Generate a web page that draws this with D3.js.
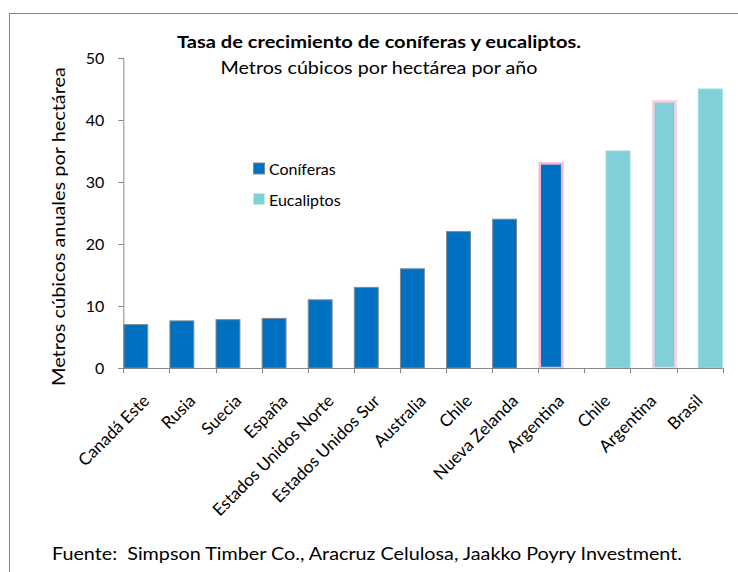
<!DOCTYPE html>
<html>
<head>
<meta charset="utf-8">
<script src="https://cdn.jsdelivr.net/npm/d3@7"></script>
<style>
  html, body { margin: 0; padding: 0; background: #fff; }
  svg { display: block; font-family: Lato, "Open Sans", sans-serif; }
</style>
</head>
<body>
<svg id="chart" width="738" height="572"></svg>
<script>
// ---- data ----
const categories = ["Canadá Este", "Rusia", "Suecia", "España", "Estados Unidos Norte", "Estados Unidos Sur", "Australia", "Chile", "Nueva Zelanda", "Argentina", "Chile", "Argentina", "Brasil"];
const coniferas  = [7, 7.6, 7.8, 8, 11, 13, 16, 22, 24, 33, null, null, null];
const eucaliptos = [null, null, null, null, null, null, null, null, null, null, 35, 43, 45];
const highlighted = [false, false, false, false, false, false, false, false, false, true, false, true, false];
const yTicks = [0, 10, 20, 30, 40, 50];
const seriesNames = ["Coníferas", "Eucaliptos"];
const titleText = "Tasa de crecimiento de coníferas y eucaliptos.";
const subtitleText = "Metros cúbicos por hectárea por año";
const yAxisTitle = "Metros cúbicos anuales por hectárea";
const sourceText = "Fuente:  Simpson Timber Co., Aracruz Celulosa, Jaakko Poyry Investment.";

// ---- layout ----
const svg = d3.select("#chart");
const colorCon = "#0070C0", colorEuc = "#81CFD9", axisColor = "#868686";
const plot = { left: 123.3, right: 722.7, top: 58, bottom: 368 };

// outer frame
svg.append("rect").attr("x", 9.5).attr("y", 13.5).attr("width", 760).attr("height", 600)
  .attr("fill", "none").attr("stroke", axisColor).attr("stroke-width", 1);

const idx = categories.map((d, i) => i);
const x = d3.scaleBand().domain(idx).range([plot.left, plot.right]).padding(0);
const y = d3.scaleLinear().domain([0, 50]).range([plot.bottom, plot.top]);
const bw = x.bandwidth();
const barW = bw * 0.54;

// bars - coniferas (left in slot)
svg.append("g").selectAll("rect")
  .data(idx.filter(i => coniferas[i] != null))
  .join("rect")
  .attr("x", i => x(i) + (highlighted[i] ? 1.5 : 0.5))
  .attr("y", i => y(coniferas[i]))
  .attr("width", i => barW - (highlighted[i] ? 2.5 : 1))
  .attr("height", i => y(0) - y(coniferas[i]))
  .attr("fill", colorCon)
  .attr("stroke", i => highlighted[i] ? "#F7B6CF" : "#7F8A95")
  .attr("stroke-width", i => highlighted[i] ? 2.5 : 1);

// bars - eucaliptos (right in slot)
svg.append("g").selectAll("rect")
  .data(idx.filter(i => eucaliptos[i] != null))
  .join("rect")
  .attr("x", i => x(i) + bw - barW + (highlighted[i] ? 1.5 : 0.5))
  .attr("y", i => y(eucaliptos[i]))
  .attr("width", i => barW - (highlighted[i] ? 2.5 : 1))
  .attr("height", i => y(0) - y(eucaliptos[i]))
  .attr("fill", colorEuc)
  .attr("stroke", i => highlighted[i] ? "#FAD0DF" : "#9BD9E0")
  .attr("stroke-width", i => highlighted[i] ? 2.5 : 1);

// y axis
const yAxis = d3.axisLeft(y).tickValues(yTicks).tickSize(5).tickPadding(14).tickFormat(d3.format("d"));
const gy = svg.append("g").attr("transform", `translate(${plot.left},0)`).call(yAxis);
gy.select(".domain").attr("stroke", axisColor);
gy.selectAll(".tick line").attr("stroke", axisColor);
gy.selectAll(".tick text").attr("font-size", 16).attr("font-family", "Lato").attr("fill", "#000");

// x axis: line + boundary ticks
const gx = svg.append("g");
gx.append("line").attr("x1", plot.left).attr("x2", plot.right).attr("y1", y(0) + 0.5).attr("y2", y(0) + 0.5)
  .attr("stroke", axisColor);
const bounds = idx.map(i => x(i)).concat([x(idx[idx.length - 1]) + bw]);
gx.selectAll("line.tk").data(bounds).join("line").attr("class", "tk")
  .attr("x1", d => Math.round(d) + 0.5).attr("x2", d => Math.round(d) + 0.5)
  .attr("y1", y(0)).attr("y2", y(0) + 5).attr("stroke", axisColor);

// category labels
gx.selectAll("text").data(idx).join("text")
  .attr("transform", i => `translate(${x(i) + bw / 2 + 4},${y(0) + 34}) rotate(-45)`)
  .attr("text-anchor", "end")
  .attr("font-size", 17)
  .attr("fill", "#000")
  .text(i => categories[i]);

// title & subtitle
svg.append("text").attr("x", 379).attr("y", 48).attr("text-anchor", "middle")
  .attr("font-size", 17).attr("font-weight", "bold").attr("fill", "#000")
  .attr("textLength", 404).attr("lengthAdjust", "spacingAndGlyphs").text(titleText);
svg.append("text").attr("x", 379).attr("y", 74).attr("text-anchor", "middle")
  .attr("font-size", 17).attr("fill", "#000")
  .attr("textLength", 317).attr("lengthAdjust", "spacingAndGlyphs").text(subtitleText);

// y axis title
svg.append("text").attr("transform", `translate(65,226.5) rotate(-90)`).attr("text-anchor", "middle")
  .attr("font-size", 18).attr("fill", "#000")
  .attr("textLength", 319).attr("lengthAdjust", "spacingAndGlyphs").text(yAxisTitle);

// legend
const legend = svg.append("g");
const legendColors = [colorCon, colorEuc];
const legendStroke = ["#7F8A95", "none"];
const legendY = [163, 193.5];
seriesNames.forEach((name, k) => {
  legend.append("rect").attr("x", 253.5).attr("y", legendY[k]).attr("width", 11).attr("height", 11)
    .attr("fill", legendColors[k]).attr("stroke", legendStroke[k]);
  legend.append("text").attr("x", 269).attr("y", legendY[k] + 12).attr("font-size", 16).attr("fill", "#000").text(name);
});

// footer
svg.append("text").attr("x", 52).attr("y", 560).attr("font-size", 17).attr("fill", "#000")
  .attr("textLength", 630).attr("lengthAdjust", "spacingAndGlyphs").attr("xml:space", "preserve").text(sourceText);
</script>
</body>
</html>
